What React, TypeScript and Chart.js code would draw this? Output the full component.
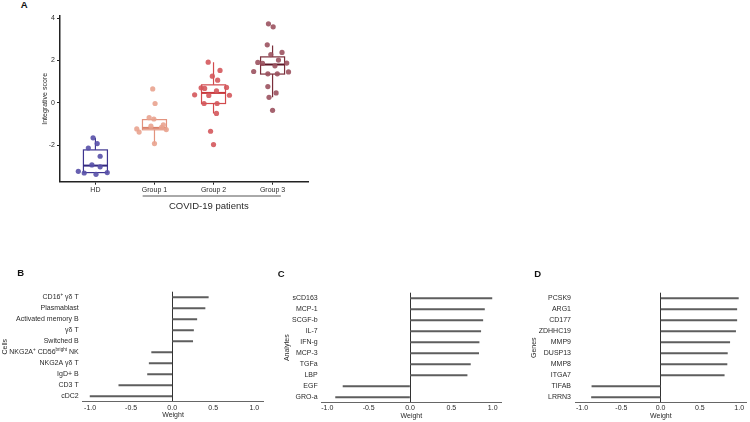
import React, { useEffect, useRef } from 'react';
import { Chart, registerables } from 'chart.js';

Chart.register(...registerables);

const FONT = '"Liberation Sans", Arial, Helvetica, sans-serif';
const TEXT = '#2a2a2a';

// superscript characters used in labels and their plain forms
const SUP_CHARS: Record<string, string> = { '⁺': '+', 'ᵇ': 'b', 'ʳ': 'r', 'ⁱ': 'i', 'ᵍ': 'g', 'ʰ': 'h', 'ᵗ': 't' };
const hasSup = (s: string) => Array.from(s).some((ch) => ch in SUP_CHARS);

// ---------- Panel A data ----------
const groupLabels = ['HD', 'Group 1', 'Group 2', 'Group 3'];

const hdScores = [-3.23, -3.31, -2.13, -1.65, -2.93, -1.92, -3.37, -2.52, -3.02, -3.29];
const hdJitter = [-0.29, -0.19, -0.12, -0.04, -0.06, 0.03, 0.01, 0.08, 0.08, 0.2];

const g1Scores = [-1.23, -1.38, -0.7, -1.1, -1.92, -0.03, 0.66, -0.76, -1.15, -1.04, -1.26];
const g1Jitter = [-0.3, -0.26, -0.09, -0.06, 0.0, 0.01, -0.03, -0.01, 0.12, 0.15, 0.2];

const g2Scores = [0.38, 0.71, 0.68, 0.35, -0.03, 1.92, 1.26, 0.57, -0.03, 1.07, -0.5, 1.53, 0.73, 0.36, -1.34, -1.97];
const g2Jitter = [-0.32, -0.21, -0.15, -0.08, -0.16, -0.09, -0.02, 0.05, 0.06, 0.07, 0.05, 0.11, 0.22, 0.27, -0.05, 0.0];

const g3Scores = [3.73, 3.59, 2.74, 2.38, 2.28, 1.91, 1.86, 2.02, 1.75, 1.48, 1.37, 1.37, 1.88, 1.46, 0.77, 0.47, 0.26, -0.35];
const g3Jitter = [-0.07, 0.01, -0.09, 0.16, -0.03, -0.25, -0.17, 0.1, 0.04, -0.32, -0.08, 0.08, 0.24, 0.27, -0.08, 0.06, -0.06, 0.0];

const boxLow = [-3.29, -1.92, -0.5, 0.26];
const boxQ1 = [-3.29, -1.27, -0.03, 1.36];
const boxMedian = [-2.96, -1.18, 0.47, 1.81];
const boxQ3 = [-2.22, -0.79, 0.85, 2.17];
const boxHigh = [-1.65, -0.72, 1.92, 2.71];

const scoreTicks = [-2, 0, 2, 4];

const pointColors = ['rgba(88,80,168,0.9)', 'rgba(233,163,143,0.9)', 'rgba(212,88,92,0.9)', 'rgba(155,82,95,0.9)'];
const boxColors = ['#3e3590', '#e2937e', '#d24a4d', '#7a2e3a'];
const medianColors = ['#33297f', '#d98069', '#c8383c', '#5c1626'];

// ---------- Panels B, C, D data ----------
const cellLabels = ['CD16⁺ γδ T', 'Plasmablast', 'Activated memory B', 'γδ T', 'Switched B', 'NKG2A⁺ CD56ᵇʳⁱᵍʰᵗ NK', 'NKG2A γδ T', 'IgD+ B', 'CD3 T', 'cDC2'];
const cellWeights = [0.44, 0.4, 0.3, 0.26, 0.25, -0.25, -0.28, -0.3, -0.65, -1.0];

const analyteLabels = ['sCD163', 'MCP-1', 'SCGF-b', 'IL-7', 'IFN-g', 'MCP-3', 'TGFa', 'LBP', 'EGF', 'GRO-a'];
const analyteWeights = [0.99, 0.9, 0.88, 0.855, 0.835, 0.83, 0.73, 0.69, -0.81, -0.9];

const geneLabels = ['PCSK9', 'ARG1', 'CD177', 'ZDHHC19', 'MMP9', 'DUSP13', 'MMP8', 'ITGA7', 'TIFAB', 'LRRN3'];
const geneWeights = [0.99, 0.97, 0.97, 0.955, 0.88, 0.85, 0.845, 0.81, -0.875, -0.88];

const weightTicks = [-1, -0.5, 0, 0.5, 1];

const font7 = { family: FONT, size: 7 };

const boxPlugin = {
  id: 'boxPlot',
  beforeDatasetsDraw(chart: any) {
    const { ctx } = chart;
    const x = chart.scales.x;
    const y = chart.scales.y;
    ctx.save();
    groupLabels.forEach((_, i) => {
      const cx = x.getPixelForValue(i);
      const half = 12;
      const yLow = y.getPixelForValue(boxLow[i]);
      const yQ1 = y.getPixelForValue(boxQ1[i]);
      const yMed = y.getPixelForValue(boxMedian[i]);
      const yQ3 = y.getPixelForValue(boxQ3[i]);
      const yHigh = y.getPixelForValue(boxHigh[i]);
      ctx.strokeStyle = boxColors[i];
      ctx.lineWidth = 1.2;
      ctx.beginPath();
      ctx.moveTo(cx, yHigh);
      ctx.lineTo(cx, yQ3);
      ctx.moveTo(cx, yQ1);
      ctx.lineTo(cx, yLow);
      ctx.stroke();
      ctx.strokeRect(cx - half, yQ3, half * 2, yQ1 - yQ3);
      ctx.strokeStyle = medianColors[i];
      ctx.lineWidth = 2;
      ctx.beginPath();
      ctx.moveTo(cx - half, yMed);
      ctx.lineTo(cx + half, yMed);
      ctx.stroke();
    });
    ctx.restore();
  },
};

const bracketPlugin = {
  id: 'bracket',
  afterDraw(chart: any) {
    const { ctx, chartArea } = chart;
    const x = chart.scales.x;
    const yLine = chartArea.bottom + 14.3;
    ctx.save();
    ctx.strokeStyle = '#555';
    ctx.lineWidth = 1;
    ctx.beginPath();
    ctx.moveTo(x.getPixelForValue(0.8), yLine);
    ctx.lineTo(x.getPixelForValue(3.14), yLine);
    ctx.stroke();
    ctx.fillStyle = TEXT;
    ctx.font = `9.5px ${FONT}`;
    ctx.textAlign = 'center';
    ctx.textBaseline = 'middle';
    ctx.fillText('COVID-19 patients', x.getPixelForValue(1.92), chartArea.bottom + 24.5);
    ctx.restore();
  },
};

// draws tick labels that contain superscript characters with a smaller raised font
const superscriptPlugin = {
  id: 'supLabels',
  afterDraw(chart: any) {
    const { ctx, chartArea } = chart;
    const y = chart.scales.y;
    ctx.save();
    ctx.fillStyle = TEXT;
    ctx.textBaseline = 'middle';
    ctx.textAlign = 'left';
    y.ticks.forEach((t: any, i: number) => {
      const label = String(t.label);
      if (!hasSup(label)) return;
      const runs: { text: string; sup: boolean }[] = [];
      Array.from(label).forEach((ch) => {
        const sup = ch in SUP_CHARS;
        const c = sup ? SUP_CHARS[ch] : ch;
        const last = runs[runs.length - 1];
        if (last && last.sup === sup) last.text += c;
        else runs.push({ text: c, sup });
      });
      const widths = runs.map((r) => {
        ctx.font = r.sup ? `4.6px ${FONT}` : `7px ${FONT}`;
        return ctx.measureText(r.text).width;
      });
      const total = widths.reduce((a, b) => a + b, 0);
      let xx = chartArea.left - 4 - total;
      const yy = y.getPixelForTick(i);
      runs.forEach((r, k) => {
        ctx.font = r.sup ? `4.6px ${FONT}` : `7px ${FONT}`;
        ctx.fillText(r.text, xx, r.sup ? yy - 2.6 : yy);
        xx += widths[k];
      });
    });
    ctx.restore();
  },
};

function PanelA() {
  const ref = useRef<HTMLCanvasElement>(null);
  useEffect(() => {
    const groups = [
      [hdScores, hdJitter],
      [g1Scores, g1Jitter],
      [g2Scores, g2Jitter],
      [g3Scores, g3Jitter],
    ];
    const datasets = groups.map(([scores, jitter], i) => ({
      label: groupLabels[i],
      data: scores.map((v, k) => ({ x: i + jitter[k], y: v })),
      backgroundColor: pointColors[i],
      borderWidth: 0,
      pointRadius: 2.6,
    }));
    const chart = new Chart(ref.current as HTMLCanvasElement, {
      type: 'scatter',
      data: { datasets },
      plugins: [boxPlugin, bracketPlugin],
      options: {
        animation: false,
        responsive: false,
        devicePixelRatio: 1,
        layout: { padding: { top: 16, right: 22, left: 0, bottom: 0 } },
        plugins: { legend: { display: false }, tooltip: { enabled: false } },
        scales: {
          x: {
            type: 'linear',
            min: -0.6,
            max: 3.6,
            afterBuildTicks: (s: any) => {
              s.ticks = groupLabels.map((_, i) => ({ value: i }));
            },
            afterFit: (s: any) => {
              s.height = 33.3;
            },
            ticks: {
              callback: (v: any) => groupLabels[Number(v)],
              font: font7,
              color: TEXT,
              padding: 1,
              maxRotation: 0,
              autoSkip: false,
            },
            grid: { drawOnChartArea: false, drawTicks: true, tickLength: 3, color: '#222' },
            border: { display: true, color: '#222', width: 1.5 },
          },
          y: {
            type: 'linear',
            min: -3.72,
            max: 4.1,
            afterBuildTicks: (s: any) => {
              s.ticks = scoreTicks.map((v) => ({ value: v }));
            },
            afterFit: (s: any) => {
              s.width = 22;
            },
            ticks: { font: font7, color: TEXT, padding: 2 },
            grid: { drawOnChartArea: false, drawTicks: true, tickLength: 3, color: '#222' },
            border: { display: true, color: '#222', width: 1.5 },
            title: { display: true, text: 'Integrative score', font: font7, color: TEXT, padding: { top: 3, bottom: 0 } },
          },
        },
      },
    } as any);
    return () => chart.destroy();
  }, []);
  return <canvas ref={ref} width={292} height={215} style={{ position: 'absolute', left: 38, top: 0 }} />;
}

type WeightProps = {
  labels: string[];
  values: number[];
  title: string;
  left: number;
  width: number;
  padTop: number;
  padRight: number;
  yWidth: number;
  xHeight: number;
  min: number;
  max: number;
  titlePad: number;
  tickPad: number;
  weightPad: number;
};

function WeightPanel(p: WeightProps) {
  const ref = useRef<HTMLCanvasElement>(null);
  useEffect(() => {
    const chart = new Chart(ref.current as HTMLCanvasElement, {
      type: 'bar',
      data: {
        labels: p.labels,
        datasets: [
          {
            data: p.values,
            backgroundColor: '#5e5e5e',
            borderWidth: 0,
            barThickness: 1.4,
          },
        ],
      },
      plugins: [superscriptPlugin],
      options: {
        indexAxis: 'y',
        animation: false,
        responsive: false,
        devicePixelRatio: 1,
        layout: { padding: { top: p.padTop, right: p.padRight, left: 0, bottom: 0 } },
        plugins: { legend: { display: false }, tooltip: { enabled: false } },
        scales: {
          x: {
            type: 'linear',
            min: p.min,
            max: p.max,
            afterBuildTicks: (s: any) => {
              s.ticks = weightTicks.map((v) => ({ value: v }));
            },
            afterFit: (s: any) => {
              s.height = p.xHeight;
            },
            ticks: {
              callback: (v: any) => Number(v).toFixed(1),
              font: font7,
              color: TEXT,
              padding: p.tickPad,
              maxRotation: 0,
            },
            grid: {
              display: true,
              drawOnChartArea: true,
              drawTicks: false,
              lineWidth: 1,
              color: (c: any) => (c.tick && c.tick.value === 0 ? '#333' : 'rgba(0,0,0,0)'),
            },
            border: { display: true, color: '#666', width: 1 },
            title: { display: true, text: 'Weight', font: font7, color: TEXT, padding: { top: 0, bottom: p.weightPad } },
          },
          y: {
            afterFit: (s: any) => {
              s.width = p.yWidth;
            },
            ticks: {
              font: font7,
              color: (c: any) => (p.labels[c.index] && hasSup(p.labels[c.index]) ? 'rgba(0,0,0,0)' : TEXT),
              padding: 4,
              autoSkip: false,
            },
            grid: { display: false, drawTicks: false },
            border: { display: false },
            title: { display: true, text: p.title, font: font7, color: TEXT, padding: { top: p.titlePad, bottom: 0 } },
          },
        },
      },
    } as any);
    return () => chart.destroy();
  }, []);
  return <canvas ref={ref} width={p.width} height={160} style={{ position: 'absolute', left: p.left, top: 262 }} />;
}

const letterStyle = (left: number, top: number): React.CSSProperties => ({
  position: 'absolute',
  left,
  top,
  fontFamily: FONT,
  fontWeight: 'bold',
  fontSize: 9.5,
  lineHeight: '10px',
  color: '#111',
});

export default function App() {
  return (
    <div style={{ position: 'absolute', left: 0, top: 0, width: 750, height: 422, background: '#fff', overflow: 'hidden' }}>
      <PanelA />
      <WeightPanel
        labels={cellLabels}
        values={cellWeights}
        title="Cells"
        left={0}
        width={270}
        padTop={29.7}
        padRight={6.7}
        yWidth={82.7}
        xHeight={20.3}
        min={-1.09}
        max={1.11}
        titlePad={1.2}
        tickPad={2}
        weightPad={2.8}
      />
      <WeightPanel
        labels={analyteLabels}
        values={analyteWeights}
        title="Analytes"
        left={280}
        width={230}
        padTop={30.7}
        padRight={9}
        yWidth={41.7}
        xHeight={19.3}
        min={-1.068}
        max={1.1}
        titlePad={2.5}
        tickPad={1}
        weightPad={1.8}
      />
      <WeightPanel
        labels={geneLabels}
        values={geneWeights}
        title="Genes"
        left={527}
        width={223}
        padTop={30.7}
        padRight={3.3}
        yWidth={48}
        xHeight={19.3}
        min={-1.09}
        max={1.096}
        titlePad={2.8}
        tickPad={1}
        weightPad={1.8}
      />
      <div style={letterStyle(20.7, 0.4)}>A</div>
      <div style={letterStyle(17.3, 268)}>B</div>
      <div style={letterStyle(277.7, 268.5)}>C</div>
      <div style={letterStyle(534.3, 268.5)}>D</div>
    </div>
  );
}
